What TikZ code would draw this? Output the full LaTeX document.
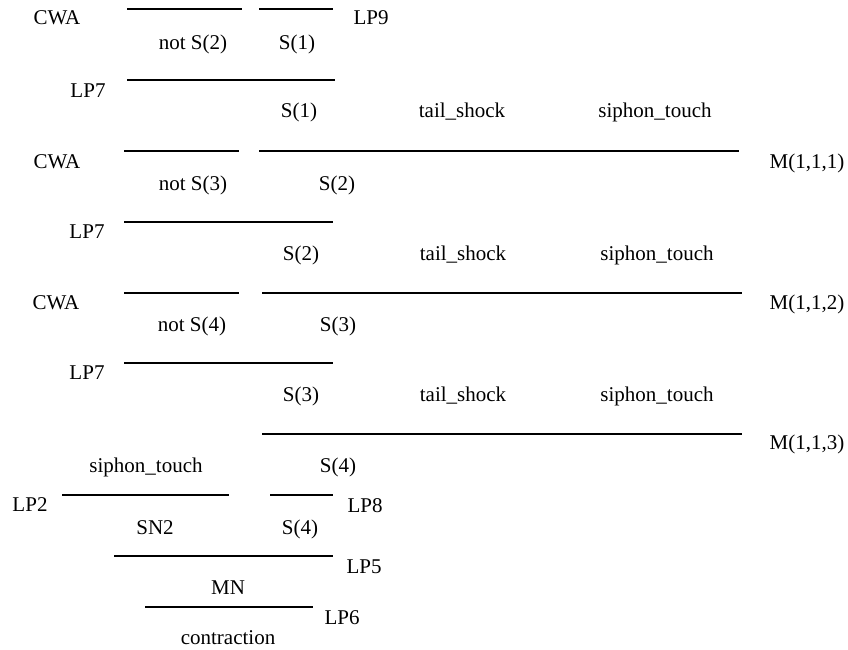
\documentclass[tikz,border=0pt]{standalone}
\usepackage{fontspec}
\setmainfont{Liberation Serif}
\begin{document}
\begin{tikzpicture}[x=1pt,y=-1pt,
  lbl/.style={inner sep=0pt,text height=0.7em,text depth=0.2em,yshift=-5pt,
              font=\fontsize{21}{25}\selectfont},
  bar/.style={line width=1.9pt}]
\useasboundingbox (0,0) rectangle (848,649);

% inference bars
\draw[bar] (127,9) -- (242,9);
\draw[bar] (259,9) -- (333,9);
\draw[bar] (127,80) -- (335,80);
\draw[bar] (124,151) -- (239,151);
\draw[bar] (259,151) -- (739,151);
\draw[bar] (124,222) -- (333,222);
\draw[bar] (124,293) -- (239,293);
\draw[bar] (262,293) -- (742,293);
\draw[bar] (124,363) -- (333,363);
\draw[bar] (262,434) -- (742,434);
\draw[bar] (62,495) -- (229,495);
\draw[bar] (270,495) -- (333,495);
\draw[bar] (114,556) -- (333,556);
\draw[bar] (145,607) -- (313,607);

% row 1
\node[lbl] (cwa1)  at (57,17)  {CWA};
\node[lbl] (nots2) at (193,42) {not S(2)};
\node[lbl] (s1a)   at (297,42) {S(1)};
\node[lbl] (lp9)   at (371,17) {LP9};
% row 2
\node[lbl] (lp7a)  at (88,90)   {LP7};
\node[lbl] (s1b)   at (299,110) {S(1)};
\node[lbl] (ts1)   at (462,110) {tail\_shock};
\node[lbl] (st1)   at (655,110) {siphon\_touch};
% row 3
\node[lbl] (cwa2)  at (57,161)  {CWA};
\node[lbl] (nots3) at (193,183) {not S(3)};
\node[lbl] (s2a)   at (337,183) {S(2)};
\node[lbl] (m111)  at (807,161) {M(1,1,1)};
% row 4
\node[lbl] (lp7b)  at (87,231)  {LP7};
\node[lbl] (s2b)   at (301,253) {S(2)};
\node[lbl] (ts2)   at (463,253) {tail\_shock};
\node[lbl] (st2)   at (657,253) {siphon\_touch};
% row 5
\node[lbl] (cwa3)  at (56,302)  {CWA};
\node[lbl] (nots4) at (192,324) {not S(4)};
\node[lbl] (s3a)   at (338,324) {S(3)};
\node[lbl] (m112)  at (807,302) {M(1,1,2)};
% row 6
\node[lbl] (lp7c)  at (87,372)  {LP7};
\node[lbl] (s3b)   at (301,394) {S(3)};
\node[lbl] (ts3)   at (463,394) {tail\_shock};
\node[lbl] (st3)   at (657,394) {siphon\_touch};
% row 7
\node[lbl] (m113)  at (807,442) {M(1,1,3)};
\node[lbl] (st4)   at (146,465) {siphon\_touch};
\node[lbl] (s4a)   at (338,465) {S(4)};
% row 8
\node[lbl] (lp2)   at (30,504)  {LP2};
\node[lbl] (lp8)   at (365,505) {LP8};
\node[lbl] (sn2)   at (155,527) {SN2};
\node[lbl] (s4b)   at (300,527) {S(4)};
% row 9
\node[lbl] (lp5)   at (364,566) {LP5};
\node[lbl] (mn)    at (228,587) {MN};
% row 10
\node[lbl] (lp6)   at (342,617) {LP6};
\node[lbl] (contr) at (228,637) {contraction};
\end{tikzpicture}
\end{document}
